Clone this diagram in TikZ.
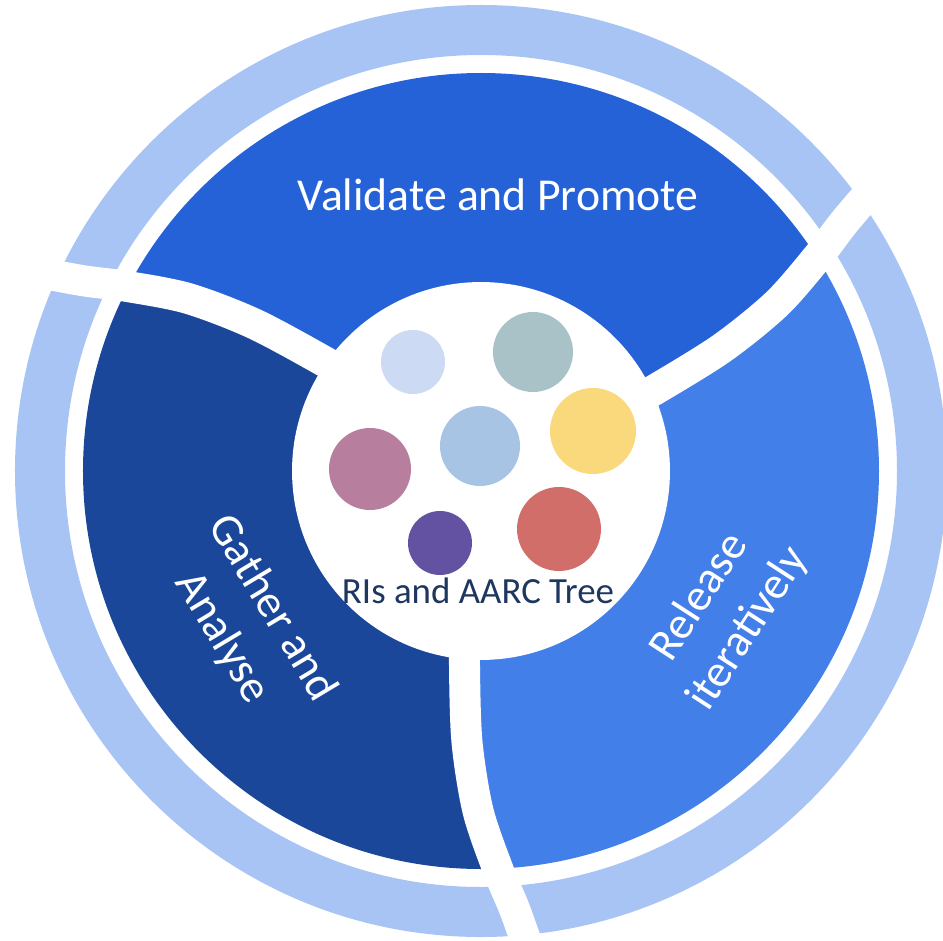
\documentclass[tikz,border=0pt]{standalone}
\usepackage{fontspec}
\setmainfont{Carlito}
\definecolor{ringblue}{RGB}{168,196,244}
\definecolor{validateblue}{RGB}{37,98,216}
\definecolor{gatherblue}{RGB}{27,71,155}
\definecolor{releaseblue}{RGB}{67,127,232}
\definecolor{treenavy}{RGB}{30,55,95}
\definecolor{dotlavender}{RGB}{204,218,243}
\definecolor{dotteal}{RGB}{168,194,199}
\definecolor{dotyellow}{RGB}{249,217,124}
\definecolor{dotsky}{RGB}{167,196,229}
\definecolor{dotmauve}{RGB}{183,126,158}
\definecolor{dotpurple}{RGB}{99,81,161}
\definecolor{dotred}{RGB}{209,110,106}

\begin{document}
\begin{tikzpicture}[
        x=0.02cm, y=0.02cm,
        gap/.style={white, line width=0.62cm},
        blob/.style={circle, draw=none, inner sep=0pt},
        phase/.style={text=white, align=center, font=\fontsize{26}{33}\selectfont}
    ]
        \useasboundingbox (-481,-469) rectangle (462,471);
        % outer ring
        \fill[ringblue, even odd rule] (0,0) circle (466) (0,0) circle (416);
        % the three phases
        \begin{scope}
            \clip (0,0) circle (398);
            \foreach \a/\b/\col in {25/145/validateblue, 145/265/gatherblue, 265/385/releaseblue}
                \fill[fill=\col] plot[smooth] coordinates {(\a-1:150) (\a:190) (\a+2:270) (\a+4.5:340) (\a+7.5:400) (\a+9.4:440) (\a+11:490)}
                    arc[start angle=\a+11, end angle=\b+11, radius=490]
                    -- plot[smooth] coordinates {(\b+11:490) (\b+9.4:440) (\b+7.5:400) (\b+4.5:340) (\b+2:270) (\b:190) (\b-1:150)} -- cycle;
        \end{scope}
        % curved gaps between the phases
        \foreach \a in {25,145,265}
            \draw[gap] plot[smooth] coordinates {(\a-1:150) (\a:190) (\a+2:270) (\a+4.5:340) (\a+7.5:400) (\a+9.4:440) (\a+11:490) (\a+12:520)};
        % hub with the RIs
        \node[circle, fill=white, inner sep=0pt, minimum size=7.56cm] (hub) at (0,0) {};
        \node[blob, fill=dotlavender, minimum size=1.28cm] (ri1) at (-68,109) {};
        \node[blob, fill=dotteal, minimum size=1.6cm] (ri2) at (52,119) {};
        \node[blob, fill=dotyellow, minimum size=1.72cm] (ri3) at (112,40) {};
        \node[blob, fill=dotsky, minimum size=1.6cm] (ri4) at (-1,25) {};
        \node[blob, fill=dotmauve, minimum size=1.64cm] (ri5) at (-111,2) {};
        \node[blob, fill=dotpurple, minimum size=1.28cm] (ri6) at (-41,-72) {};
        \node[blob, fill=dotred, minimum size=1.68cm] (ri7) at (78,-58) {};
        \node[anchor=base, text=treenavy, font=\fontsize{21}{25}\selectfont] (tree) at (-3,-132) {RIs and AARC Tree};
        % phase labels
        \node[phase, anchor=base] (validate) at (17,260) {Validate and Promote};
        \node[phase, rotate=-59] (gather) at (-234,-152) {Gather and\\Analyse};
        \node[phase, rotate=57] (release) at (243,-142) {Release\\iteratively};
\end{tikzpicture}
\end{document}
